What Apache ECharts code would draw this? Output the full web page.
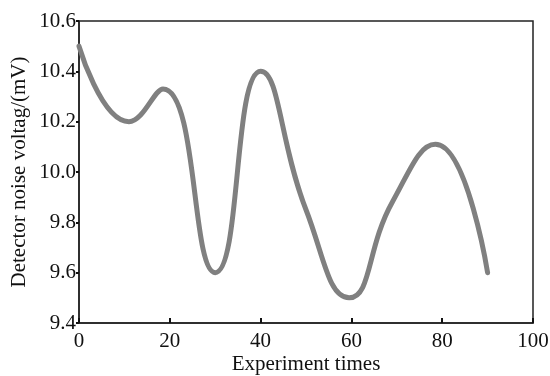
<!DOCTYPE html>
<html><head><meta charset="utf-8">
<script src="https://cdn.jsdelivr.net/npm/echarts@6/dist/echarts.min.js"></script>
<style>html,body{margin:0;padding:0;background:#fff}#c{width:550px;height:376px}</style>
</head><body><div id="c"></div>
<script>
var xValues = [0, 11, 18.5, 30, 40, 50, 59.5, 69, 78.5, 90];
var yValues = [10.5, 10.2, 10.33, 9.6, 10.4, 9.85, 9.5, 9.88, 10.11, 9.6];
var xTitle = 'Experiment times';
var yTitle = 'Detector noise voltag/(mV)';
var data = xValues.map(function(x, i){ return [x, yValues[i]]; });
var font = 'Liberation Serif';
var chart = echarts.init(document.getElementById('c'));
chart.setOption({
  animation: false,
  backgroundColor: '#fff',
  grid: {left: 79, right: 17, top: 21, bottom: 53, show: true, borderColor: '#222', borderWidth: 1.5,
    containLabel: false, outerBoundsMode: 'none'},
  xAxis: {
    type: 'value', min: 0, max: 100, interval: 20,
    name: xTitle, nameLocation: 'middle', nameGap: 31, nameMoveOverlap: false,
    nameTextStyle: {fontFamily: font, fontSize: 21, color: '#111'},
    axisLine: {lineStyle: {color: '#222', width: 1.5}},
    axisTick: {inside: true, length: 5, lineStyle: {color: '#111', width: 2}},
    axisLabel: {fontFamily: font, fontSize: 21, color: '#111', margin: 8},
    splitLine: {show: false}
  },
  yAxis: {
    type: 'value', min: 9.4, max: 10.6, interval: 0.2,
    name: yTitle, nameLocation: 'middle', nameGap: 49, nameMoveOverlap: false,
    nameTextStyle: {fontFamily: font, fontSize: 21, color: '#111'},
    axisLine: {lineStyle: {color: '#222', width: 1.5}},
    axisTick: {inside: false, length: 3, lineStyle: {color: '#111', width: 2}},
    axisLabel: {fontFamily: font, fontSize: 21, color: '#111', margin: 3,
      formatter: function(v){ return v.toFixed(1); }},
    splitLine: {show: false}
  },
  series: [{
    type: 'line', data: data, smooth: 0.5, showSymbol: false,
    lineStyle: {color: '#808080', width: 5, cap: 'round'}
  }]
});
</script></body></html>
